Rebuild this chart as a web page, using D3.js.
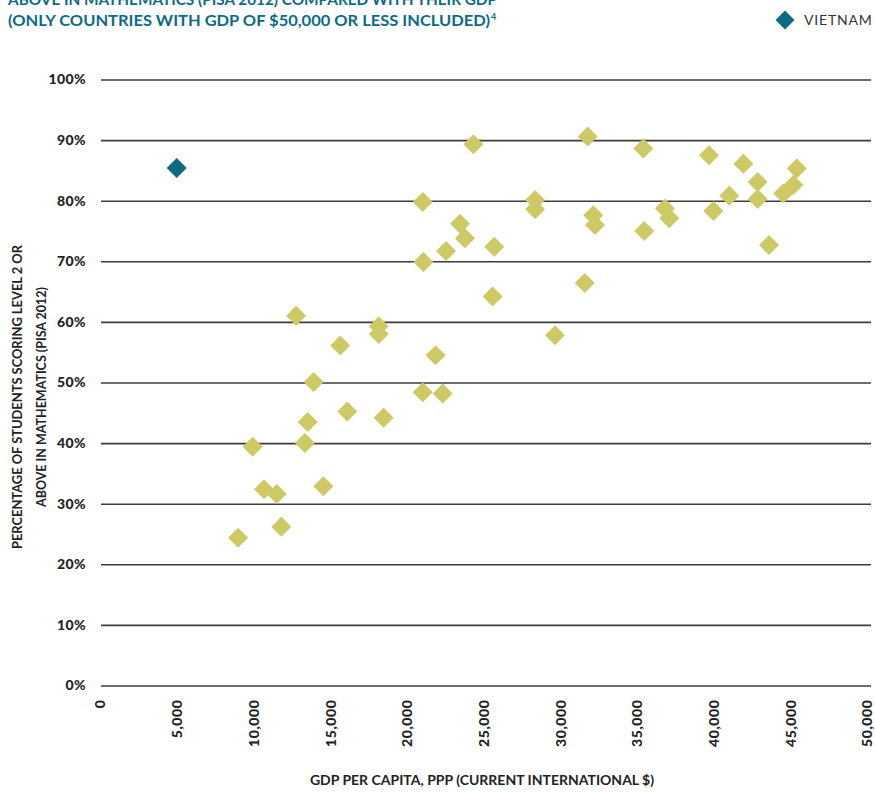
<!DOCTYPE html>
<html>
<head>
<meta charset="utf-8">
<script src="https://cdn.jsdelivr.net/npm/d3@7"></script>
<style>
  body { margin: 0; background: #fff; }
  svg text { font-family: Lato, "Open Sans", sans-serif; }
</style>
</head>
<body>
<svg width="875" height="792"></svg>
<script>
// GDP per capita (PPP, current intl $) and share of students at level 2+ in maths
var vietnamGdp = [5000];
var vietnamPct = [85.4];

var otherGdp = [9000, 9950, 10690, 11520, 11820, 12780, 13360, 13540, 13930, 14560,
                15660, 16120, 18170, 18170, 18490, 21040, 21080, 21040, 21880, 22340,
                22560, 23470, 23790, 24340, 25700, 25590, 28360, 28360, 29660, 31790,
                31600, 32160, 32270, 35420, 35480, 36830, 37110, 39700, 39980, 41020,
                41940, 42870, 42870, 43610, 44540, 45200, 45420];
var otherPct = [24.4, 39.4, 32.4, 31.6, 26.2, 61.0, 40.0, 43.5, 50.1, 32.9,
                56.1, 45.2, 59.3, 58.0, 44.2, 79.8, 69.9, 48.4, 54.5, 48.2,
                71.7, 76.2, 73.8, 89.3, 72.4, 64.2, 80.1, 78.6, 57.8, 90.6,
                66.4, 77.6, 76.0, 88.6, 75.0, 78.7, 77.1, 87.5, 78.3, 80.8,
                86.1, 83.1, 80.3, 72.7, 81.2, 82.6, 85.3];

var xTicks = [0, 5000, 10000, 15000, 20000, 25000, 30000, 35000, 40000, 45000, 50000];
var yTicks = [0, 10, 20, 30, 40, 50, 60, 70, 80, 90, 100];

var titleLines = ["ABOVE IN MATHEMATICS (PISA 2012) COMPARED WITH THEIR GDP",
                  "(ONLY COUNTRIES WITH GDP OF $50,000 OR LESS INCLUDED)"];

var teal = "#0c6b84", olive = "#cdc964";

var svg = d3.select("svg");

var x = d3.scaleLinear().domain([0, 50000]).range([100, 867]);
var y = d3.scaleLinear().domain([0, 100]).range([685.5, 79.5]);

// title (top line is cut by the page edge, as in the original)
var title = svg.append("text")
  .attr("fill", teal)
  .attr("font-weight", "bold")
  .attr("font-size", "15.5px");
title.append("tspan").attr("x", 8).attr("y", 5)
  .attr("textLength", 489).attr("lengthAdjust", "spacingAndGlyphs")
  .text(titleLines[0]);
title.append("tspan").attr("x", 8).attr("y", 26)
  .attr("textLength", 482).attr("lengthAdjust", "spacingAndGlyphs")
  .text(titleLines[1]);
title.append("tspan").attr("dx", 1).attr("dy", -6).attr("font-size", "9px").text("4");

// legend
svg.append("path")
  .attr("d", d3.symbol(d3.symbolSquare, 180)())
  .attr("transform", "translate(785,20) rotate(45)")
  .attr("fill", teal);
svg.append("text")
  .attr("x", 804).attr("y", 25)
  .attr("font-size", "14px")
  .attr("letter-spacing", "0.8px")
  .attr("fill", "#333")
  .text("VIETNAM");

// y axis with gridlines
var yAxis = svg.append("g")
  .attr("transform", "translate(101,0)")
  .call(d3.axisLeft(y).tickValues(yTicks).tickSize(-770).tickPadding(15)
        .tickFormat(function(d) { return d + "%"; }));
yAxis.select(".domain").remove();
yAxis.selectAll(".tick line").attr("stroke", "#3d3d3d").attr("stroke-width", 1.6);
yAxis.selectAll(".tick text")
  .attr("font-family", "Lato, sans-serif")
  .attr("font-weight", "900")
  .attr("font-size", "14px")
  .attr("letter-spacing", "0.4px")
  .attr("fill", "#222");

// x axis labels, rotated
var xAxis = svg.append("g")
  .attr("transform", "translate(0,685.5)")
  .call(d3.axisBottom(x).tickValues(xTicks).tickSize(0)
        .tickFormat(function(d) { return d3.format(",")(d); }));
xAxis.select(".domain").remove();
xAxis.selectAll(".tick text")
  .attr("font-family", "Lato, sans-serif")
  .attr("font-weight", "900")
  .attr("font-size", "14px")
  .attr("letter-spacing", "0.6px")
  .attr("fill", "#222")
  .attr("text-anchor", "end")
  .attr("transform", "rotate(-90)")
  .attr("x", -14).attr("y", 0).attr("dy", "0.35em");

// axis titles
svg.append("text")
  .attr("x", 482).attr("y", 785)
  .attr("text-anchor", "middle")
  .attr("font-weight", "bold")
  .attr("font-size", "14px")
  .attr("fill", "#222")
  .text("GDP PER CAPITA, PPP (CURRENT INTERNATIONAL $)");

var yTitle = svg.append("text")
  .attr("transform", "translate(22,397) rotate(-90)")
  .attr("text-anchor", "middle")
  .attr("font-weight", "bold")
  .attr("font-size", "13.5px")
  .attr("fill", "#222");
yTitle.append("tspan").attr("x", 0).attr("y", 0)
  .attr("textLength", 304).attr("lengthAdjust", "spacingAndGlyphs")
  .text("PERCENTAGE OF STUDENTS SCORING LEVEL 2 OR");
yTitle.append("tspan").attr("x", 0).attr("y", 24)
  .attr("textLength", 220).attr("lengthAdjust", "spacingAndGlyphs")
  .text("ABOVE IN MATHEMATICS (PISA 2012)");

// points
var diamond = d3.symbol(d3.symbolSquare, 200)();

svg.append("g").selectAll("path")
  .data(d3.range(otherGdp.length))
  .enter().append("path")
  .attr("d", diamond)
  .attr("transform", function(i) { return "translate(" + x(otherGdp[i]) + "," + y(otherPct[i]) + ") rotate(45)"; })
  .attr("fill", olive);

svg.append("g").selectAll("path")
  .data(d3.range(vietnamGdp.length))
  .enter().append("path")
  .attr("d", diamond)
  .attr("transform", function(i) { return "translate(" + x(vietnamGdp[i]) + "," + y(vietnamPct[i]) + ") rotate(45)"; })
  .attr("fill", teal);
</script>
</body>
</html>
